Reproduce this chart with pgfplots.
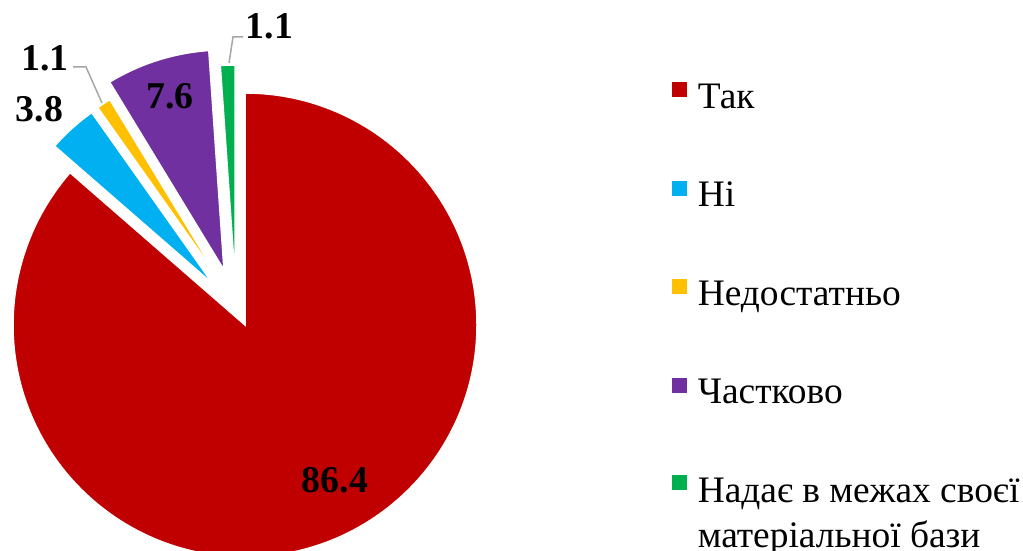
\documentclass[border=0pt]{standalone}
\usepackage{pgfplots}
\pgfplotsset{compat=1.18}
\usepackage{fontspec}
\setmainfont{Liberation Serif}

\definecolor{cTak}{HTML}{C00000}
\definecolor{cNi}{HTML}{00B0F0}
\definecolor{cNed}{HTML}{FFC000}
\definecolor{cChas}{HTML}{7030A0}
\definecolor{cNad}{HTML}{00B050}

% shares, %
\def\vTak{86.4}
\def\vNi{3.8}
\def\vNed{1.1}
\def\vChas{7.6}
\def\vNad{1.1}

% slice: colour, tip x, tip y (px), radius (px), start angle, end angle
\newcommand\slice[6]{%
  \fill[#1, draw=white, line width=0.75pt] (axis cs:#2,#3) -- ++(#5:{#4*0.5pt})
    arc[start angle=#5, end angle=#6, radius={#4*0.5pt}] -- cycle;}
% fixed line box for legend text
\newcommand\ls{\rule[-6.75pt]{0pt}{22.5pt}}

\begin{document}
\begin{tikzpicture}
\useasboundingbox (0,0) rectangle (511.5pt,275.5pt);
% clockwise from 12 o'clock
\pgfmathsetmacro\aA{90}
\pgfmathsetmacro\aB{\aA-3.6*\vTak}
\pgfmathsetmacro\aC{\aB-3.6*\vNi}
\pgfmathsetmacro\aD{\aC-3.6*\vNed}
\pgfmathsetmacro\aE{\aD-3.6*\vChas}
\pgfmathsetmacro\aF{\aE-3.6*\vNad}
\begin{axis}[
    at={(0,0)}, anchor=south west,
    scale only axis, width=511.5pt, height=275.5pt,
    xmin=0, xmax=1023, ymin=0, ymax=551, y dir=reverse,
    hide axis, clip=false,
    legend cell align=left,
    legend style={at={(axis cs:672,76.5)}, anchor=north west,
        draw=none, fill=none, inner sep=0pt, outer sep=0pt,
        row sep=32pt, column sep=5.5pt,
        font=\fontsize{18.7}{22.5}\selectfont,
        nodes={inner sep=0pt, outer sep=0pt}},
]
\slice{cTak}{245}{325}{232}{\aA}{\aB}
\slice{cNi}{213}{284}{210}{\aB}{\aC}
\slice{cNed}{219}{279}{210}{\aC}{\aD}
\slice{cChas}{224}{270}{220}{\aD}{\aE}
\slice{cNad}{235}{278}{213}{\aE}{\aF}

\draw[black!35, line width=0.75pt] (axis cs:73,67) -- (axis cs:86,67) -- (axis cs:102,103);
\draw[black!35, line width=0.75pt] (axis cs:243,37) -- (axis cs:233,37) -- (axis cs:229,63);

\begin{scope}[every node/.style={inner sep=0pt, font=\fontsize{18.9}{22}\selectfont\bfseries}]
\node at (axis cs:335,480) {\vTak};
\node at (axis cs:39.5,109.5) {\vNi};
\node at (axis cs:45,58) {\vNed};
\node at (axis cs:170,96.5) {\vChas};
\node at (axis cs:269.5,26) {\vNad};
\end{scope}

\addlegendimage{legend image code/.code={\fill[cTak] (0pt,-1.5pt) rectangle (7pt,5.5pt);}}
\addlegendentry{\ls Так}
\addlegendimage{legend image code/.code={\fill[cNi] (0pt,-1.5pt) rectangle (7pt,5.5pt);}}
\addlegendentry{\ls Ні}
\addlegendimage{legend image code/.code={\fill[cNed] (0pt,-1.5pt) rectangle (7pt,5.5pt);}}
\addlegendentry{\ls Недостатньо}
\addlegendimage{legend image code/.code={\fill[cChas] (0pt,-1.5pt) rectangle (7pt,5.5pt);}}
\addlegendentry{\ls Частково}
\addlegendimage{legend image code/.code={\fill[cNad] (0pt,10.5pt) rectangle (7pt,17.5pt);}}
\addlegendentry[align=left]{\ls Надає в межах своєї\\\ls матеріальної бази}
\end{axis}
\end{tikzpicture}
\end{document}
